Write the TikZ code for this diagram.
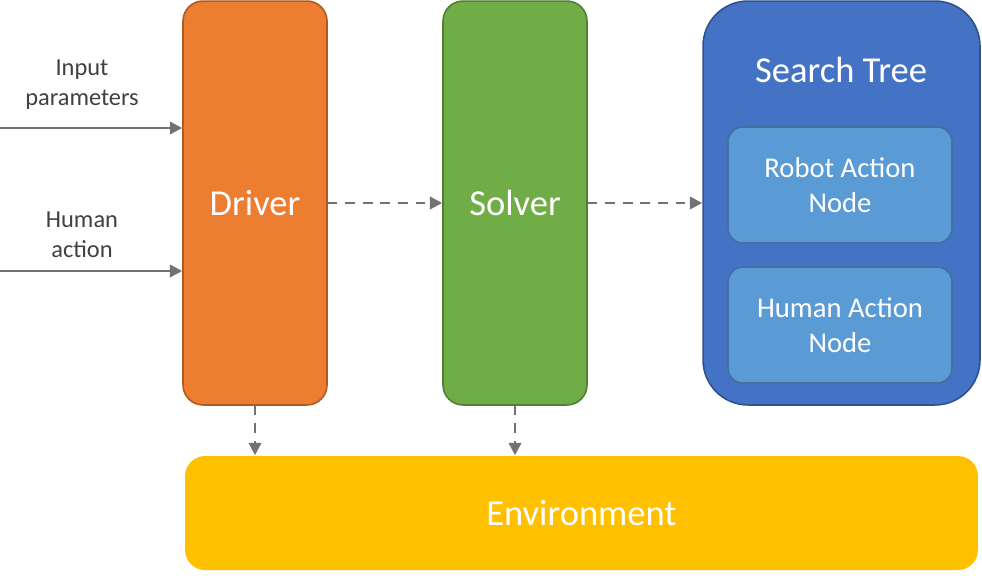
\documentclass[tikz,border=0pt]{standalone}
\usepackage{fontspec}
\setmainfont{Carlito}
\usetikzlibrary{arrows.meta,calc,positioning}
\definecolor{drvfill}{HTML}{ED7D31}
\definecolor{drvline}{HTML}{AE5A21}
\definecolor{solfill}{HTML}{70AD47}
\definecolor{solline}{HTML}{507E32}
\definecolor{treefill}{HTML}{4472C4}
\definecolor{treeline}{HTML}{2F528F}
\definecolor{leaffill}{HTML}{5B9BD5}
\definecolor{leafline}{HTML}{41719C}
\definecolor{envfill}{HTML}{FFC000}
\definecolor{arrowgray}{HTML}{767171}
\definecolor{labelgray}{HTML}{404040}

\tikzset{
  block/.style={rounded corners=0.4cm,line width=0.9pt,inner sep=0pt,
    minimum width=2.88cm,minimum height=8.08cm,text=white,font=\fontsize{20.8}{24}\selectfont},
  leaf/.style={rounded corners=0.3cm,line width=0.9pt,inner sep=0pt,draw=leafline,fill=leaffill,
    minimum width=4.48cm,minimum height=2.32cm,text=white,align=center,
    font=\fontsize{16.3}{19.8}\selectfont},
  feed/.style={-{Triangle[length=7pt,width=7pt]},arrowgray,line width=1.5pt},
  flow/.style={feed,dash pattern=on 5.5pt off 4.5pt},
  sidelabel/.style={text=labelgray,align=center,font=\fontsize{13.9}{17}\selectfont}
}

\begin{document}
\begin{tikzpicture}[x=0.02cm,y=-0.02cm]
  \useasboundingbox (0,0) rectangle (982,575);
  % main blocks
  \node[block,draw=drvline,fill=drvfill] (driver) at (255,203) {Driver};
  \node[block,draw=solline,fill=solfill] (solver) at (515,203) {Solver};
  \node[block,draw=treeline,fill=treefill,rounded corners=0.9cm,minimum width=5.54cm] (tree) at (841.5,203) {};
  \node[text=white,font=\fontsize{20.8}{24}\selectfont] (treetitle) at (841,70) {Search Tree};
  \node[leaf] (robot) at (840,185) {Robot Action\\Node};
  \node[leaf] (human) at (840,325) {Human Action\\Node};
  \node[block,fill=envfill,draw=none,minimum width=15.86cm,minimum height=2.28cm] (env) at (581.5,513) {Environment};
  % inputs
  \coordinate (inparam) at (0,128);
  \coordinate (inhuman) at (0,271);
  \node[sidelabel] (paramlabel) at (82,85) {Input\\parameters};
  \node[sidelabel] (humanlabel) at (82,235) {Human\\action};
  \draw[feed] (inparam) -- (inparam -| driver.west);
  \draw[feed] (inhuman) -- (inhuman -| driver.west);
  % dashed connectors
  \draw[flow] (driver.east) -- (solver.west);
  \draw[flow] (solver.east) -- (tree.west);
  \draw[flow] (driver.south) -- (env.north -| driver.south);
  \draw[flow] (solver.south) -- (env.north -| solver.south);
\end{tikzpicture}
\end{document}
